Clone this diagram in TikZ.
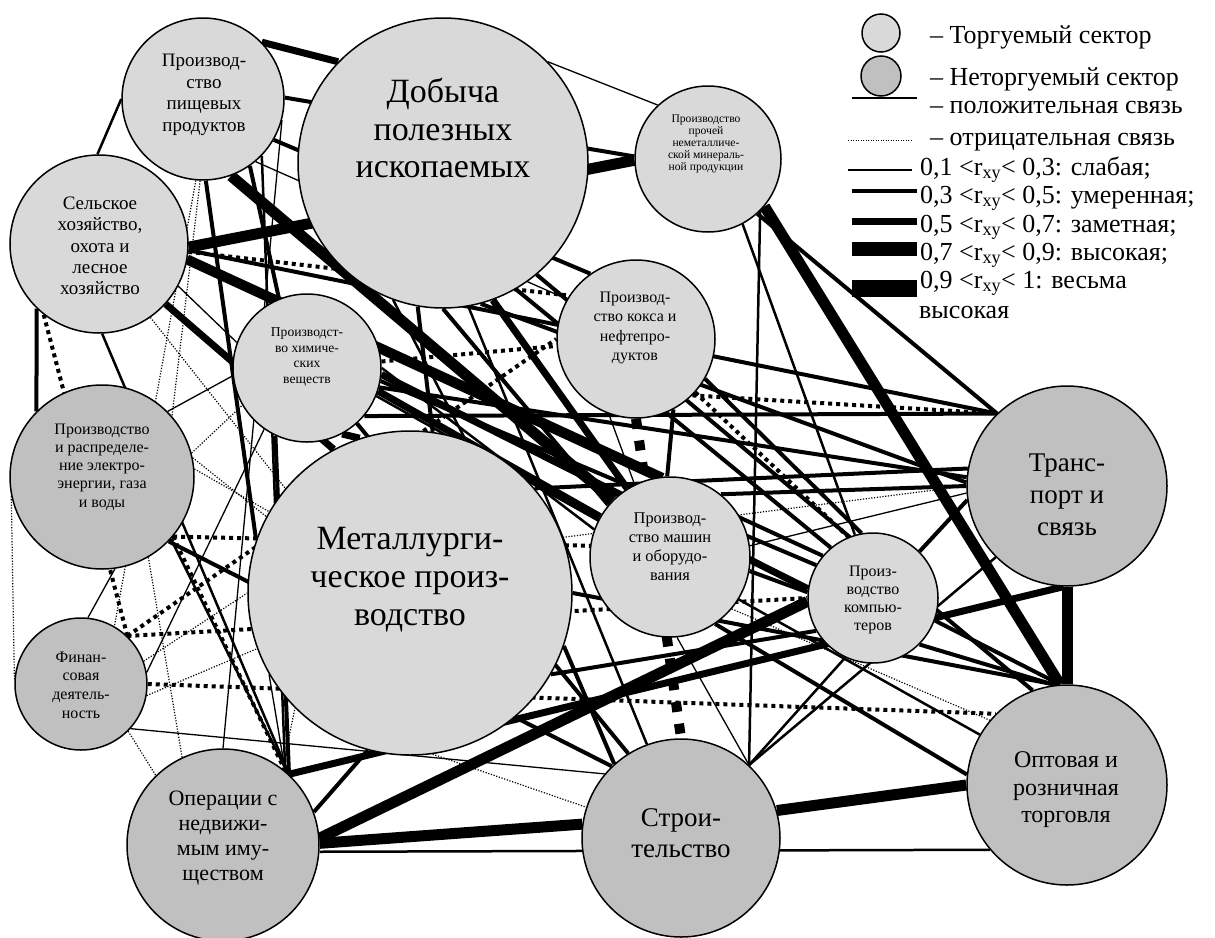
\documentclass[tikz,border=0pt]{standalone}
\usepackage{fontspec}
\setmainfont{Liberation Serif}
\usetikzlibrary{backgrounds}
\definecolor{trd}{RGB}{217,217,217}
\definecolor{ntr}{RGB}{192,192,192}
\newcommand\fsz[2]{\fontsize{#1}{#2}\selectfont}
\tikzset{
 sec/.style={circle, draw=black, line width=1.5pt, inner sep=0pt},
 tr/.style={sec, fill=trd},
 nt/.style={sec, fill=ntr},
 lbl/.style={align=center, inner sep=0pt},
 lg/.style={anchor=base west, inner sep=0pt, font=\fsz{26}{28}},
 pa/.style={line width=1.3pt},
 pb/.style={line width=2.5pt},
 pc/.style={line width=4pt},
 pd/.style={line width=7pt},
 pe/.style={line width=11pt},
 na/.style={line width=1.2pt, dash pattern=on 1.2pt off 1.6pt},
 nb/.style={line width=2.5pt, dash pattern=on 2.5pt off 2.5pt},
 nc/.style={line width=4pt, dash pattern=on 4pt off 4pt},
 nd/.style={line width=7pt, dash pattern=on 7pt off 7pt},
 ne/.style={line width=10pt, dash pattern=on 10pt off 12pt},
}
\begin{document}
\begin{tikzpicture}[x=1pt,y=-1pt]
\useasboundingbox (0,0) rectangle (1215,937);
% sectors
\node[tr, minimum size=162pt] (F) at (203,99) {};
\node[tr, minimum size=290pt] (M) at (443,163) {};
\node[tr, minimum size=146pt] (N) at (708,159) {};
\node[tr, minimum size=178pt] (A) at (99,244) {};
\node[tr, minimum size=148pt] (C) at (307,368) {};
\node[tr, minimum size=158pt] (K) at (636,339) {};
\node[nt, minimum size=184pt] (E) at (102,477) {};
\node[tr, minimum size=324pt] (Me) at (410,593) {};
\node[tr, minimum size=160pt] (Ma) at (670,557) {};
\node[tr, minimum size=130pt] (P) at (873,598) {};
\node[nt, minimum size=200pt] (T) at (1067,486) {};
\node[nt, minimum size=132pt] (Fi) at (81,684) {};
\node[nt, minimum size=192pt] (O) at (223,845) {};
\node[nt, minimum size=198pt] (S) at (681,838) {};
\node[nt, minimum size=200pt] (W) at (1067,785) {};
% labels
\node[lbl, font=\fsz{19}{21.6}] (Ft) at (204,95) {Производ-\\ство\\пищевых\\продуктов};
\node[lbl, font=\fsz{34}{37.5}] (Mt) at (443,128) {Добыча\\полезных\\ископаемых};
\node[lbl, font=\fsz{11.6}{12.2}] (Nt) at (706,144) {Производство\\прочей\\неметалличе-\\ской минераль-\\ной продукции};
\node[lbl, font=\fsz{19}{21.3}] (At) at (100,246) {Сельское\\хозяйство,\\охота и\\лесное\\хозяйство};
\node[lbl, font=\fsz{13.6}{15.5}] (Ct) at (307,357) {Производст-\\во химиче-\\ских\\веществ};
\node[lbl, font=\fsz{16}{19.5}] (Kt) at (635,328) {Производ-\\ство кокса и\\нефтепро-\\дуктов};
\node[lbl, font=\fsz{16}{18.3}] (Et) at (102,467) {Производство\\и распределе-\\ние электро-\\энергии, газа\\и воды};
\node[lbl, font=\fsz{34}{38}] (Met) at (410,580) {Металлурги-\\ческое произ-\\водство};
\node[lbl, font=\fsz{16.4}{19}] (Mat) at (670,547) {Производ-\\ство машин\\и оборудо-\\вания};
\node[lbl, font=\fsz{16}{18.3}] (Pt) at (873,600) {Произ-\\водство\\компью-\\теров};
\node[lbl, font=\fsz{27}{32}] (Tt) at (1067,495) {Транс-\\порт и\\связь};
\node[lbl, font=\fsz{24}{27.5}] (Wt) at (1066,790) {Оптовая и\\розничная\\торговля};
\node[lbl, font=\fsz{16}{18.7}] (Fit) at (81,685) {Финан-\\совая\\деятель-\\ность};
\node[lbl, font=\fsz{22}{25}] (Ot) at (223,838) {Операции с\\недвижи-\\мым иму-\\ществом};
\node[lbl, font=\fsz{27}{31}] (St) at (681,833) {Строи-\\тельство};
% connectors
\begin{pgfonlayer}{background}
\draw[pd] (F.44) -- (M.136);
\draw[pc] (F.1) -- (N.178);
\draw[pe] (A.-2) -- (N.181);
\draw[pa] (M.44) -- (N.133);
\draw[pb] (A.91) -- (F.180);
\draw[nc] (A.-5) -- (K.147);
\draw[pc] (A.-4) -- (T.134);
\draw[pd] (A.-9) -- (Ma.95);
\draw[pe] (F.-70) -- (Ma.135);
\draw[pa] (A.-28) -- (C.160);
\draw[pd] (A.-42) -- (Me.118);
\draw[pc] (A.-134) -- (E.135);
\draw[nc] (A.-128) -- (Fi.46);
\draw[pb] (A.-88) -- (O.47);
\draw[pa] (E.-82) -- (Fi.84);
\draw[na] (E.-168) -- (Fi.176);
\draw[na] (Fi.-45) -- (O.134);
\draw[na] (F.-92) -- (E.41);
\draw[na] (F.-95) -- (Fi.60);
\draw[pb] (F.-44) -- (O.50);
\draw[pa] (F.-15) -- (O.90);
\draw[pc] (F.-88) -- (Me.161);
\draw[pc] (F.-30) -- (K.125);
\draw[pa] (F.-50) -- (K.150);
\draw[pc] (C.-40) -- (T.134);
\draw[nc] (K.-45) -- (T.134);
\draw[pa] (K.-12) -- (T.134);
\draw[pc] (N.-48) -- (T.134);
\draw[pe] (N.-40) -- (W.94);
\draw[pe] (T.-90) -- (W.90);
\draw[pc] (Ma.51) -- (T.180);
\draw[pa] (Ma.8) -- (T.184);
\draw[na] (Me.20) -- (T.180);
\draw[pc] (P.45) -- (T.188);
\draw[pb] (N.-62) -- (P.106);
\draw[pd] (O.47) -- (T.-92);
\draw[pe] (O.4) -- (P.183);
\draw[pe] (O.1) -- (S.172);
\draw[pb] (O.-4) -- (W.-140);
\draw[pe] (S.16) -- (W.180);
\draw[ne] (K.-90) -- (S.90);
\draw[pc] (K.-62) -- (Ma.92);
\draw[pa] (K.-110) -- (Ma.116);
\draw[nc] (K.-42) -- (P.112);
\draw[pc] (K.-30) -- (P.100);
\draw[na] (Ma.-40) -- (W.140);
\draw[pc] (Ma.-56) -- (W.174);
\draw[pc] (Me.0) -- (W.96);
\draw[nc] (Fi.0) -- (W.135);
\draw[pc] (Me.-19) -- (S.132);
\draw[pc] (E.-44) -- (S.134);
\draw[pc] (C.-48) -- (S.122);
\draw[pa] (Fi.-42) -- (S.140);
\draw[na] (Me.-82) -- (S.162);
\draw[nc] (Fi.46) -- (P.180);
\draw[nc] (Fi.46) -- (K.180);
\draw[nc] (C.5) -- (K.185);
\draw[pb] (N.-45) -- (S.47);
\draw[pc] (P.-20) -- (W.94);
\draw[pc] (P.-45) -- (W.97);
\draw[pb] (S.47) -- (P.-115);
\draw[pb] (S.47) -- (T.-135);
\draw[pa] (S.47) -- (Ma.-85);
\draw[pd] (M.-70) -- (Ma.122);
\draw[pc] (M.-90) -- (Ma.140);
\draw[pc] (C.-10) -- (P.150);
\draw[pb] (M.-80) -- (S.110);
\draw[pb] (C.-22) -- (W.150);
\draw[pc] (M.-60) -- (P.130);
\draw[pb] (C.0) -- (Ma.160);
\draw[pd] (C.-18) -- (Ma.150);
\draw[pc] (M.-100) -- (Me.82);
\draw[pb] (M.-110) -- (Me.70);
\draw[pd] (C.-62) -- (Me.108);
\draw[pc] (F.-55) -- (C.112);
\draw[pa] (E.45) -- (C.186);
\draw[na] (E.12) -- (Me.152);
\draw[nc] (E.-40) -- (O.50);
\draw[pb] (E.-42) -- (O.48);
\draw[nc] (E.-40) -- (Ma.172);
\draw[na] (E.5) -- (Me.150);
\draw[na] (E.15) -- (C.-150);
\draw[pc] (O.47) -- (C.-115);
\draw[pa] (O.50) -- (Me.-150);
\draw[na] (O.52) -- (Me.-135);
\draw[pc] (O.20) -- (Me.-105);
\draw[pa] (Fi.10) -- (C.-125);
\draw[na] (Fi.20) -- (Me.180);
\draw[na] (E.-60) -- (O.115);
\draw[na] (Fi.-10) -- (Me.-160);
\draw[pc] (M.-75) -- (T.178);
\draw[pd] (C.-5) -- (P.172);
\draw[pc] (C.-15) -- (T.175);
\draw[pc] (Me.40) -- (T.170);
\draw[pc] (A.-12) -- (P.140);
\draw[pc] (M.-50) -- (W.110);
\draw[pc] (Ma.-10) -- (P.175);
\draw[pc] (Me.-30) -- (P.-150);
\draw[na] (A.-55) -- (Me.140);
\end{pgfonlayer}
% legend
\node[tr, minimum size=38pt] (L1) at (881,33) {};
\node[nt, minimum size=40pt] (L2) at (881,76) {};
\node[lg] (L1t) at (930,43) {– Торгуемый сектор};
\node[lg] (L2t) at (930,85) {– Неторгуемый сектор};
\coordinate (l3a) at (852,98); \coordinate (l3b) at (917,98);
\draw[line width=1.5pt] (l3a) -- (l3b);
\node[lg] (L3t) at (930,113) {– положительная связь};
\coordinate (l4a) at (848,140); \coordinate (l4b) at (912,140);
\draw[line width=1pt, dash pattern=on 1pt off 1.5pt] (l4a) -- (l4b);
\node[lg] (L4t) at (930,145) {– отрицательная связь};
\coordinate (l5a) at (848,170); \coordinate (l5b) at (912,170);
\draw[line width=1.5pt] (l5a) -- (l5b);
\node[lg] (L5t) at (920,175) {0,1 <r\textsubscript{xy}< 0,3: слабая;};
\coordinate (l6a) at (852,191); \coordinate (l6b) at (917,191);
\draw[line width=4pt] (l6a) -- (l6b);
\node[lg] (L6t) at (920,203) {0,3 <r\textsubscript{xy}< 0,5: умеренная;};
\coordinate (l7a) at (852,221); \coordinate (l7b) at (917,221);
\draw[line width=7pt] (l7a) -- (l7b);
\node[lg] (L7t) at (920,232) {0,5 <r\textsubscript{xy}< 0,7: заметная;};
\coordinate (l8a) at (852,249); \coordinate (l8b) at (917,249);
\draw[line width=14pt] (l8a) -- (l8b);
\node[lg] (L8t) at (920,260) {0,7 <r\textsubscript{xy}< 0,9: высокая;};
\coordinate (l9a) at (852,288); \coordinate (l9b) at (917,288);
\draw[line width=17pt] (l9a) -- (l9b);
\node[lg] (L9t) at (920,288) {0,9 <r\textsubscript{xy}< 1: весьма};
\node[lg] (L10t) at (919,318) {высокая};
\end{tikzpicture}
\end{document}
